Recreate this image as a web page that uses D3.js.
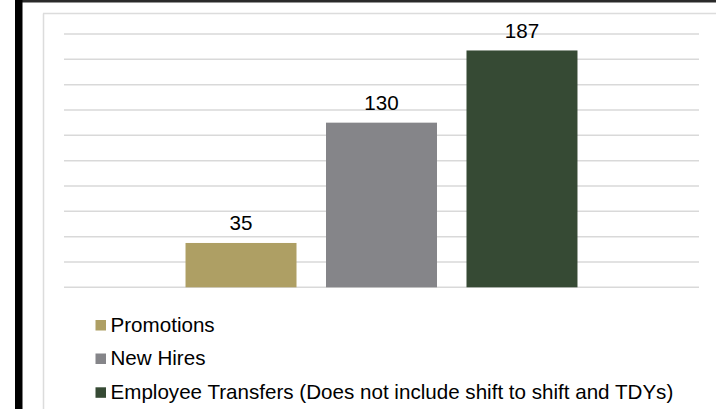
<!DOCTYPE html>
<html>
<head>
<meta charset="utf-8">
<script src="https://cdn.jsdelivr.net/npm/d3@7/dist/d3.min.js"></script>
<style>
  html, body { margin: 0; padding: 0; background: #fff; }
  svg { display: block; }
  text { font-family: "Liberation Sans", Arial, sans-serif; fill: #000; }
</style>
</head>
<body>
<svg id="chart" width="716" height="409"></svg>
<script>
const series = ["Promotions", "New Hires", "Employee Transfers (Does not include shift to shift and TDYs)"];
const values = [35, 130, 187];
const colors = ["#ae9f64", "#858589", "#364a34"];
const yTicks = [0, 20, 40, 60, 80, 100, 120, 140, 160, 180, 200];

const svg = d3.select("#chart");
const W = 716, H = 409;

// outer frame decorations
svg.append("rect").attr("x", 15).attr("y", 0).attr("width", W - 15).attr("height", 2.5).attr("fill", "#2a2a2a");
svg.append("rect").attr("x", 15).attr("y", 0).attr("width", 7.5).attr("height", H).attr("fill", "#000");
svg.append("line").attr("x1", 43).attr("x2", W).attr("y1", 13.5).attr("y2", 13.5)
  .attr("stroke", "#dcdcdc").attr("stroke-width", 1.5);
svg.append("line").attr("x1", 43.5).attr("x2", 43.5).attr("y1", 13.5).attr("y2", H)
  .attr("stroke", "#dcdcdc").attr("stroke-width", 1.5);

const plot = { left: 64, right: 699, top: 34, bottom: 287.3 };

const y = d3.scaleLinear().domain([0, 200]).range([plot.bottom, plot.top]);
const x = d3.scaleBand().domain(series).range([plot.left, plot.right])
  .paddingInner(0.21).paddingOuter(0.865);

// gridlines
svg.append("g").selectAll("line").data(yTicks).join("line")
  .attr("x1", plot.left).attr("x2", plot.right)
  .attr("y1", d => y(d)).attr("y2", d => y(d))
  .attr("stroke", "#d9d9d9").attr("stroke-width", 1.5);

const data = series.map((s, i) => ({ s, v: values[i], c: colors[i] }));

// bars
svg.append("g").selectAll("rect").data(data).join("rect")
  .attr("x", d => x(d.s)).attr("width", x.bandwidth())
  .attr("y", d => y(d.v)).attr("height", d => y(0) - y(d.v))
  .attr("fill", d => d.c);

// labels
svg.append("g").selectAll("text").data(data).join("text")
  .attr("x", d => x(d.s) + x.bandwidth() / 2)
  .attr("y", d => y(d.v) - 12.5)
  .attr("text-anchor", "middle")
  .attr("font-size", 20.6)
  .text(d => d.v);

// legend
const legendY = [331.5, 365, 398.8];
const lg = svg.append("g").selectAll("g").data(data).join("g")
  .attr("transform", (d, i) => `translate(95.5, ${legendY[i]})`);
lg.append("rect").attr("x", 0).attr("y", -11.5).attr("width", 10.5).attr("height", 10.5)
  .attr("fill", d => d.c);
lg.append("text").attr("x", 15).attr("y", 0).attr("font-size", 20.6).text(d => d.s);
</script>
</body>
</html>
